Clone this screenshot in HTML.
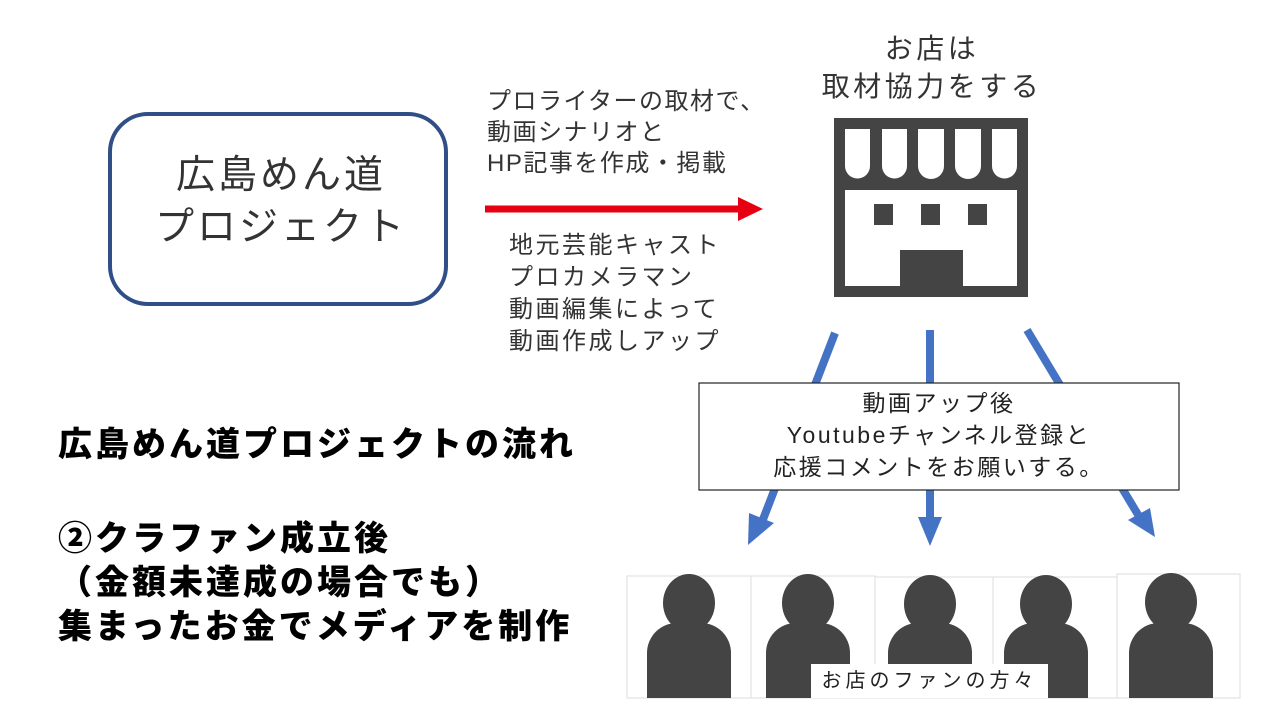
<!DOCTYPE html>
<html><head><meta charset="utf-8"><style>
body{margin:0;width:1280px;height:720px;background:#fff;overflow:hidden;position:relative;font-family:"Liberation Sans","Noto Sans CJK JP",sans-serif;color:#222}
.t{position:absolute;white-space:nowrap}
</style></head><body>
<div style="position:absolute;left:108px;top:112px;width:332px;height:186px;border:4px solid #2f4f86;border-radius:40px;"></div>
<div class="t" style="left:108px;top:150px;width:346px;text-align:center;font-size:39px;letter-spacing:3px;line-height:52px;color:#333">広島めん道<br>プロジェクト</div>
<div class="t" style="left:487px;top:86px;font-size:24px;letter-spacing:1.5px;line-height:31px;color:#333">プロライターの取材で、<br>動画シナリオと<br>HP記事を作成・掲載</div>
<div class="t" style="left:509px;top:230px;font-size:24px;letter-spacing:2.5px;line-height:32px;color:#333">地元芸能キャスト<br>プロカメラマン<br>動画編集によって<br>動画作成しアップ</div>
<div class="t" style="left:800px;top:30px;width:264px;text-align:center;font-size:28px;letter-spacing:3.5px;line-height:38px;color:#333">お店は<br>取材協力をする</div>
<div class="t" style="left:58px;top:425px;font-size:34px;letter-spacing:3px;font-weight:900;line-height:40px;color:#000">広島めん道プロジェクトの流れ</div>
<div class="t" style="left:58px;top:517px;font-size:34px;letter-spacing:3px;font-weight:900;line-height:44px;color:#000">②クラファン成立後<br>（金額未達成の場合でも）<br>集まったお金でメディアを制作</div>
<svg width="1280" height="720" style="position:absolute;left:0;top:0">
<line x1="485" y1="209" x2="740" y2="209" stroke="#e60012" stroke-width="7"/>
<polygon points="738,197 763,209 738,221" fill="#e60012"/>
<rect x="834" y="118" width="194" height="179" fill="#444"/>
<g fill="#fff">
<rect x="845" y="190" width="172" height="96"/>
<path d="M845 129h25v37a12.5 12.5 0 0 1-25 0z"/>
<path d="M882 129h25v37a12.5 12.5 0 0 1-25 0z"/>
<path d="M918 129h26v37a13 13 0 0 1-26 0z"/>
<path d="M955 129h26v37a13 13 0 0 1-26 0z"/>
<path d="M992 129h25v37a12.5 12.5 0 0 1-25 0z"/>
</g>
<g fill="#444">
<rect x="874" y="204" width="19" height="21"/><rect x="921" y="204" width="19" height="21"/><rect x="968" y="204" width="19" height="21"/>
<rect x="900" y="250" width="63" height="37"/>
</g>
<g stroke="#4472c4" stroke-width="8" fill="#4472c4">
<line x1="835" y1="333" x2="762" y2="522"/>
<line x1="930" y1="330" x2="930" y2="520"/>
<line x1="1027" y1="330" x2="1140" y2="518"/>
</g>
<g fill="#4472c4">
<polygon points="748,545 749,513 774,523"/>
<polygon points="930,546 918,517 942,517"/>
<polygon points="1155,537 1128,520 1150,508"/>
</g>
<rect x="699" y="383" width="480" height="107" fill="#fff" stroke="#222" stroke-width="1.2"/>
<g fill="none" stroke="#ddd" stroke-width="1">
<rect x="627" y="576" width="124" height="122"/><rect x="751" y="576" width="124" height="122"/>
<rect x="875" y="577" width="118" height="121"/><rect x="993" y="577" width="124" height="121"/>
<rect x="1117" y="574" width="123" height="124"/>
</g>
<g fill="#444">
<ellipse cx="689" cy="603" rx="26" ry="29"/><path d="M647 698v-45a30 30 0 0 1 30-30h24a30 30 0 0 1 30 30v45z"/>
<ellipse cx="808" cy="603" rx="26" ry="29"/><path d="M766 698v-45a30 30 0 0 1 30-30h24a30 30 0 0 1 30 30v45z"/>
<ellipse cx="930" cy="604" rx="26" ry="29"/><path d="M888 698v-45a30 30 0 0 1 30-30h24a30 30 0 0 1 30 30v45z"/>
<ellipse cx="1046" cy="604" rx="26" ry="29"/><path d="M1004 698v-45a30 30 0 0 1 30-30h24a30 30 0 0 1 30 30v45z"/>
<ellipse cx="1171" cy="602" rx="26" ry="29"/><path d="M1129 698v-45a30 30 0 0 1 30-30h24a30 30 0 0 1 30 30v45z"/>
</g>
<rect x="811" y="664" width="237" height="34" fill="#fff"/>
</svg>
<div class="t" style="left:699px;top:387px;width:480px;text-align:center;font-size:23px;letter-spacing:2.5px;line-height:32px;color:#222">動画アップ後<br>Youtubeチャンネル登録と<br>応援コメントをお願いする。</div>
<div class="t" style="left:811px;top:667px;width:237px;text-align:center;font-size:20px;letter-spacing:4px;line-height:28px;color:#222">お店のファンの方々</div>
</body></html>
